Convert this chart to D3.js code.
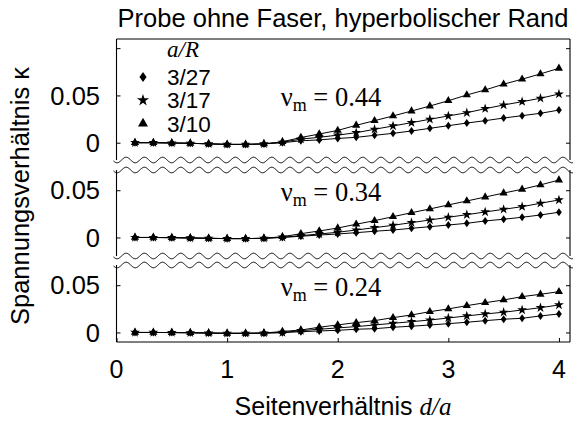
<!DOCTYPE html>
<html><head><meta charset="utf-8">
<script src="https://cdn.jsdelivr.net/npm/d3@7"></script>
<style>body{margin:0;background:#fff}svg{display:block}</style>
</head><body><svg id="c" width="584" height="421"></svg>
<script>
// ---- data ----
const ratioX = [0.167,0.333,0.5,0.667,0.833,1.0,1.167,1.333,1.5,1.667,1.833,2.0,2.167,2.333,2.5,2.667,2.833,3.0,3.167,3.333,3.5,3.667,3.833,4.0];
const seriesNames = ["3/27","3/17","3/10"];
const panelNu = ["0.44","0.34","0.24"];
const xTicks = [0,1,2,3,4];
const yTickValues = [0, 0.05, 0.1];
const yTickLabels = ["0","0.05",""];

// nu = 0.44
const nu44_r27 = [0,0,-0.0003,-0.0006,-0.0012,-0.0018,-0.0018,-0.0013,0.0,0.002,0.003,0.0045,0.0057,0.0078,0.0099,0.0124,0.0152,0.018,0.0208,0.0233,0.0261,0.0286,0.0311,0.0345];
const nu44_r17 = [0,0,-0.0003,-0.0006,-0.0012,-0.0018,-0.0018,-0.0013,0.0005,0.0038,0.0057,0.008,0.0106,0.0142,0.0177,0.0212,0.0248,0.0283,0.0317,0.036,0.0399,0.0434,0.047,0.0515];
const nu44_r10 = [0,0,-0.0003,-0.0006,-0.0012,-0.0018,-0.0018,-0.0012,0.001,0.0055,0.0092,0.013,0.0184,0.0233,0.0283,0.0335,0.0388,0.0444,0.0505,0.0558,0.0619,0.0672,0.0728,0.0787];
// nu = 0.34
const nu34_r27 = [0,0,-0.0002,-0.0005,-0.0009,-0.0012,-0.0012,-0.0009,0.0,0.0013,0.0026,0.0037,0.0051,0.0066,0.0079,0.0097,0.0114,0.0132,0.015,0.0175,0.0193,0.0214,0.0238,0.0267];
const nu34_r17 = [0,0,-0.0002,-0.0005,-0.0009,-0.0012,-0.0012,-0.0009,0.0003,0.0019,0.0037,0.0055,0.0079,0.0104,0.0129,0.0157,0.0185,0.0214,0.0241,0.027,0.0298,0.0326,0.0362,0.0397];
const nu34_r10 = [0,0,-0.0002,-0.0005,-0.0009,-0.0012,-0.0012,-0.0008,0.0008,0.004,0.0069,0.01,0.014,0.0178,0.022,0.0262,0.0302,0.0344,0.0386,0.0428,0.047,0.051,0.0556,0.0608];
// nu = 0.24
const nu24_r27 = [0,0,-0.0001,-0.0003,-0.0006,-0.0009,-0.0009,-0.0007,-0.0002,0.0008,0.0016,0.0023,0.0034,0.004,0.0055,0.0066,0.0079,0.0093,0.0108,0.0125,0.014,0.015,0.0175,0.0196];
const nu24_r17 = [0,0,-0.0001,-0.0003,-0.0006,-0.0009,-0.0009,-0.0007,0.0,0.0019,0.0034,0.0048,0.0062,0.0079,0.0097,0.0114,0.0132,0.0153,0.0175,0.0196,0.0214,0.0238,0.0262,0.0291];
const nu24_r10 = [0,0,-0.0001,-0.0003,-0.0006,-0.0009,-0.0009,-0.0006,0.001,0.0026,0.0055,0.008,0.0104,0.0125,0.0157,0.0185,0.022,0.0249,0.0284,0.0315,0.0344,0.0379,0.0404,0.0432];

const panelData = [
  [nu44_r27, nu44_r17, nu44_r10],
  [nu34_r27, nu34_r17, nu34_r10],
  [nu24_r27, nu24_r17, nu24_r10]
];
const panelDomains = [[-0.0183, 0.1097], [-0.0196, 0.0714], [-0.0101, 0.0714]];

// ---- layout ----
const svg = d3.select("#c");
const L = 116.5, R = 570;
const panelPx = [[160, 39], [256, 170], [342, 265]]; // [bottom, top]
const wavy = [false, true, true];
const wavyBottom = [true, true, false];
const x = d3.scaleLinear().domain([0, 4.1]).range([L, R]);
const wideDiamond = {
  draw(ctx, size) {
    const h = Math.sqrt(size) * 0.82, w = h * 0.72;
    ctx.moveTo(0, -h); ctx.lineTo(w, 0); ctx.lineTo(0, h); ctx.lineTo(-w, 0); ctx.closePath();
  }
};
const symbols = [wideDiamond, d3.symbolStar, d3.symbolTriangle];
const symSizes = [24, 30, 29];
const sans = "'Liberation Sans', Arial, Helvetica, sans-serif";
const serif = "'Liberation Serif', 'Times New Roman', serif";

const amp = 2.8, period = 18.2;
function wavePath(yc) {
  const pts = d3.range(L - 3, R + 3.01, 0.5).map(px => [px, yc + amp * Math.sin(2 * Math.PI * (px - L + 4) / period)]);
  return d3.line()(pts);
}

panelData.forEach((series, pi) => {
  const [pb, pt] = panelPx[pi];
  const y = d3.scaleLinear().domain(panelDomains[pi]).range([pb, pt]);
  const g = svg.append("g");
  const f = g.append("g").attr("stroke", "#000").attr("stroke-width", 1.1).attr("fill", "none");
  f.append("line").attr("x1", L).attr("x2", L).attr("y1", pt).attr("y2", pb);
  f.append("line").attr("x1", R).attr("x2", R).attr("y1", pt).attr("y2", pb);
  if (wavy[pi]) f.append("path").attr("d", wavePath(pt)).attr("stroke-width", 1);
  else f.append("line").attr("x1", L).attr("x2", R).attr("y1", pt).attr("y2", pt);
  if (wavyBottom[pi]) f.append("path").attr("d", wavePath(pb)).attr("stroke-width", 1);
  else f.append("line").attr("x1", L).attr("x2", R).attr("y1", pb).attr("y2", pb);

  const tv = yTickValues.filter(v => y(v) > pt + 2 && y(v) < pb - 2);
  const axL = d3.axisRight(y).tickValues(tv).tickSize(4).tickFormat("");
  const axR = d3.axisLeft(y).tickValues(tv).tickSize(4).tickFormat("");
  const gl = g.append("g").attr("transform", `translate(${L},0)`).call(axL);
  const gr = g.append("g").attr("transform", `translate(${R},0)`).call(axR);
  [gl, gr].forEach(a => { a.select(".domain").remove(); a.selectAll("line").attr("stroke", "#000"); });
  g.selectAll("text.yl").data(tv).join("text")
    .attr("x", 100).attr("y", d => y(d)).attr("dy", "0.36em")
    .attr("text-anchor", "end").attr("font-family", sans).attr("font-size", 25.5)
    .text(d => yTickLabels[yTickValues.indexOf(d)]);

  if (pi === panelData.length - 1) {
    const ax = d3.axisTop(x).tickValues(xTicks).tickSize(4).tickFormat("");
    const gx = g.append("g").attr("transform", `translate(0,${pb})`).call(ax);
    gx.select(".domain").remove(); gx.selectAll("line").attr("stroke", "#000");
    g.selectAll("text.xl").data(xTicks).join("text")
      .attr("x", d => x(d)).attr("y", pb + 36).attr("text-anchor", "middle")
      .attr("font-family", sans).attr("font-size", 25).text(d => d);
  }

  const t = g.append("text").attr("x", 331).attr("y", y(0.039)).attr("text-anchor", "middle")
    .attr("font-family", serif).attr("font-size", 26.5);
  t.append("tspan").text("ν");
  t.append("tspan").attr("font-size", 18).attr("dy", 5).text("m");
  t.append("tspan").attr("dy", -5).text(" = " + panelNu[pi]);

  const line = d3.line().x((d, i) => x(ratioX[i])).y(d => y(d));
  [2, 1, 0].forEach(si => {
    g.append("path").attr("d", line(series[si])).attr("fill", "none").attr("stroke", "#000").attr("stroke-width", 1);
    g.selectAll(null).data(series[si]).join("path")
      .attr("transform", (d, i) => `translate(${x(ratioX[i])},${y(d)})`)
      .attr("d", d3.symbol(symbols[si], symSizes[si])).attr("fill", "#000");
  });
});

// legend
const lg = svg.append("g");
lg.append("text").attr("x", 183).attr("y", 57).attr("text-anchor", "middle")
  .attr("font-family", serif).attr("font-style", "italic").attr("font-size", 23).text("a/R");
seriesNames.forEach((n, i) => {
  const yy = 77 + i * 23.3;
  lg.append("path").attr("transform", `translate(143,${yy})`).attr("d", d3.symbol(symbols[i], symSizes[i] * 1.5)).attr("fill", "#000");
  lg.append("text").attr("x", 167).attr("y", yy).attr("dy", "0.36em").attr("font-family", sans).attr("font-size", 22.5).text(n);
});

svg.append("text").attr("x", 343).attr("y", 27).attr("text-anchor", "middle")
  .attr("font-family", sans).attr("font-size", 25.5).text("Probe ohne Faser, hyperbolischer Rand");

const xt = svg.append("text").attr("x", 343).attr("y", 415).attr("text-anchor", "middle")
  .attr("font-family", sans).attr("font-size", 25);
xt.append("tspan").text("Seitenverhältnis ");
xt.append("tspan").attr("font-family", serif).attr("font-style", "italic").text("d/a");

svg.append("text").attr("transform", "translate(29,196) rotate(-90)").attr("text-anchor", "middle")
  .attr("font-family", sans).attr("font-size", 25.5).text("Spannungsverhältnis κ");
</script></body></html>
